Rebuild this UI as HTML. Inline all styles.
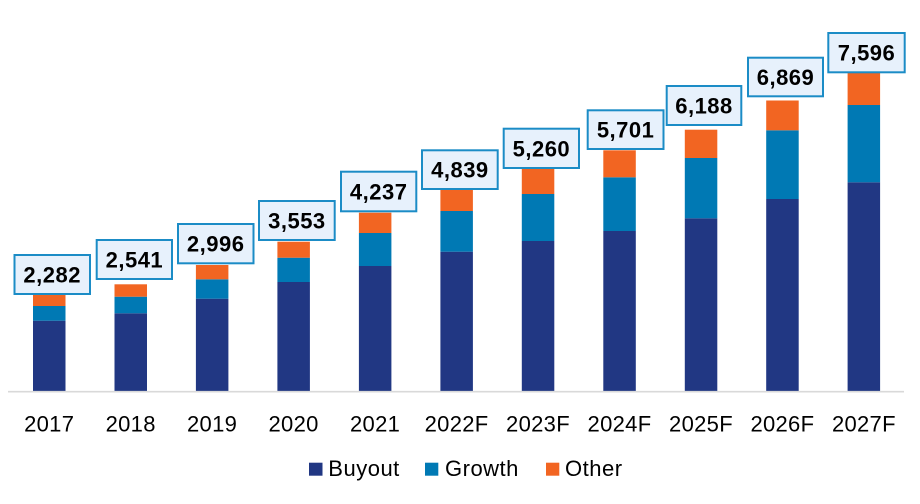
<!DOCTYPE html>
<html><head><meta charset="utf-8"><style>
html,body{margin:0;padding:0;background:#fff;}
svg{display:block;}
.lbl{font-family:"Liberation Sans",sans-serif;font-weight:bold;font-size:22px;fill:#000;text-anchor:middle;letter-spacing:0.5px;}
.ax{font-family:"Liberation Sans",sans-serif;font-size:22px;fill:#000;text-anchor:middle;letter-spacing:0.3px;}
.lg{font-family:"Liberation Sans",sans-serif;font-size:22px;fill:#000;letter-spacing:0.5px;}
</style></head><body>
<svg width="920" height="504" viewBox="0 0 920 504" xmlns="http://www.w3.org/2000/svg">
<rect width="920" height="504" fill="#fff"/>
<g id="bars">
<!-- 2017 -->
<rect x="33" y="320.7" width="32.5" height="70.8" fill="#213783"/>
<rect x="33" y="306" width="32.5" height="14.7" fill="#0079b4"/>
<rect x="33" y="294.7" width="32.5" height="11.3" fill="#f26522"/>
<!-- 2018 -->
<rect x="114.5" y="313.3" width="32.5" height="78.2" fill="#213783"/>
<rect x="114.5" y="296.7" width="32.5" height="16.6" fill="#0079b4"/>
<rect x="114.5" y="284.3" width="32.5" height="12.4" fill="#f26522"/>
<!-- 2019 -->
<rect x="195.9" y="298.7" width="32.5" height="92.8" fill="#213783"/>
<rect x="195.9" y="279.3" width="32.5" height="19.4" fill="#0079b4"/>
<rect x="195.9" y="265" width="32.5" height="14.3" fill="#f26522"/>
<!-- 2020 -->
<rect x="277.4" y="282" width="32.5" height="109.5" fill="#213783"/>
<rect x="277.4" y="257.7" width="32.5" height="24.3" fill="#0079b4"/>
<rect x="277.4" y="241.7" width="32.5" height="16" fill="#f26522"/>
<!-- 2021 -->
<rect x="358.9" y="266" width="32.5" height="125.5" fill="#213783"/>
<rect x="358.9" y="233" width="32.5" height="33" fill="#0079b4"/>
<rect x="358.9" y="212.7" width="32.5" height="20.3" fill="#f26522"/>
<!-- 2022F -->
<rect x="440.4" y="251.7" width="32.5" height="139.8" fill="#213783"/>
<rect x="440.4" y="211" width="32.5" height="40.7" fill="#0079b4"/>
<rect x="440.4" y="190" width="32.5" height="21" fill="#f26522"/>
<!-- 2023F -->
<rect x="521.8" y="241" width="32.5" height="150.5" fill="#213783"/>
<rect x="521.8" y="194" width="32.5" height="47" fill="#0079b4"/>
<rect x="521.8" y="168.3" width="32.5" height="25.7" fill="#f26522"/>
<!-- 2024F -->
<rect x="603.3" y="231" width="32.5" height="160.5" fill="#213783"/>
<rect x="603.3" y="177.3" width="32.5" height="53.7" fill="#0079b4"/>
<rect x="603.3" y="150.3" width="32.5" height="27" fill="#f26522"/>
<!-- 2025F -->
<rect x="684.8" y="218.3" width="32.5" height="173.2" fill="#213783"/>
<rect x="684.8" y="158" width="32.5" height="60.3" fill="#0079b4"/>
<rect x="684.8" y="129.7" width="32.5" height="28.3" fill="#f26522"/>
<!-- 2026F -->
<rect x="766.2" y="199" width="32.5" height="192.5" fill="#213783"/>
<rect x="766.2" y="130.3" width="32.5" height="68.7" fill="#0079b4"/>
<rect x="766.2" y="100.5" width="32.5" height="29.8" fill="#f26522"/>
<!-- 2027F -->
<rect x="847.6" y="182.3" width="32.5" height="209.2" fill="#213783"/>
<rect x="847.6" y="105" width="32.5" height="77.3" fill="#0079b4"/>
<rect x="847.6" y="70.3" width="32.5" height="34.7" fill="#f26522"/>
</g>
<line x1="8" y1="391.7" x2="904" y2="391.7" stroke="#d9d9d9" stroke-width="1.6"/>
<g id="boxes" fill="#e7f1fc" stroke="#1b8cc6" stroke-width="2">
<rect x="14.5" y="255" width="75.5" height="39"/>
<rect x="96.7" y="240" width="75.3" height="39"/>
<rect x="178" y="224" width="75.5" height="39.3"/>
<rect x="259" y="201" width="75.7" height="39"/>
<rect x="341" y="171.7" width="75.3" height="39.6"/>
<rect x="422" y="150.3" width="75.7" height="38.7"/>
<rect x="503.7" y="128.7" width="75.3" height="39.3"/>
<rect x="587.7" y="110.3" width="75.8" height="38.7"/>
<rect x="666.7" y="86" width="74.6" height="39"/>
<rect x="748" y="57.7" width="75" height="38.6"/>
<rect x="828.3" y="33" width="76.4" height="39.3"/>
</g>
<g id="labels">
<text class="lbl" x="52.2" y="282.5">2,282</text>
<text class="lbl" x="134.4" y="267.5">2,541</text>
<text class="lbl" x="215.7" y="251.7">2,996</text>
<text class="lbl" x="296.9" y="228.5">3,553</text>
<text class="lbl" x="378.7" y="199.5">4,237</text>
<text class="lbl" x="459.9" y="177.7">4,839</text>
<text class="lbl" x="541.4" y="156.4">5,260</text>
<text class="lbl" x="625.6" y="137.7">5,701</text>
<text class="lbl" x="704" y="113.5">6,188</text>
<text class="lbl" x="785.5" y="85">6,869</text>
<text class="lbl" x="866.5" y="60.7">7,596</text>
</g>
<g id="axis">
<text class="ax" x="49.2" y="431.7">2017</text>
<text class="ax" x="130.7" y="431.7">2018</text>
<text class="ax" x="212.1" y="431.7">2019</text>
<text class="ax" x="293.6" y="431.7">2020</text>
<text class="ax" x="375.1" y="431.7">2021</text>
<text class="ax" x="456.6" y="431.7">2022F</text>
<text class="ax" x="538" y="431.7">2023F</text>
<text class="ax" x="619.5" y="431.7">2024F</text>
<text class="ax" x="701" y="431.7">2025F</text>
<text class="ax" x="782.4" y="431.7">2026F</text>
<text class="ax" x="863.9" y="431.7">2027F</text>
</g>
<g id="legend">
<rect x="309" y="462.7" width="13.5" height="13" fill="#213783"/>
<text class="lg" x="328.3" y="476">Buyout</text>
<rect x="425" y="462.7" width="13.3" height="13" fill="#0079b4"/>
<text class="lg" x="445" y="476">Growth</text>
<rect x="546" y="462.7" width="13.3" height="13" fill="#f26522"/>
<text class="lg" x="565" y="476">Other</text>
</g>
</svg>
</body></html>
